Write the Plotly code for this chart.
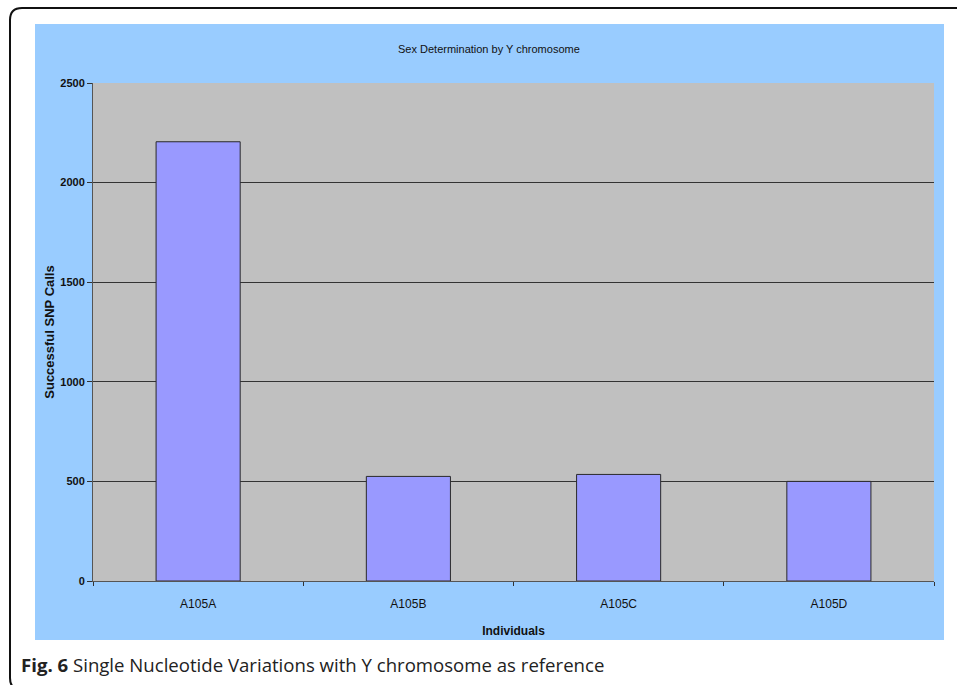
import plotly.graph_objects as go

# Successful SNP calls on the Y chromosome per individual
individuals = ["A105A", "A105B", "A105C", "A105D"]
snp_calls = [2205, 525, 535, 500]
y_ticks = [0, 500, 1000, 1500, 2000, 2500]

W, H = 957, 685
L, R, T, B = 93, 23, 83, 104
pw, ph = W - L - R, H - T - B


def px_x(px):
    return (px - L) / pw


def px_y(py):
    return (H - B - py) / ph


fig = go.Figure(
    go.Bar(
        x=individuals,
        y=snp_calls,
        width=0.4,
        marker=dict(color="#9999FF", line=dict(color="#2a2a2a", width=1)),
    )
)

shapes = [
    # light blue chart panel
    dict(type="rect", xref="paper", yref="paper", layer="below",
         x0=px_x(35), x1=px_x(944), y0=px_y(640), y1=px_y(24),
         fillcolor="#99CCFF", line=dict(width=0)),
    # grey plotting area
    dict(type="rect", xref="paper", yref="paper", layer="below",
         x0=0, x1=1, y0=0, y1=1,
         fillcolor="#C0C0C0", line=dict(width=0)),
]

# rounded frame around the figure
x0, y0, x1, y1 = px_x(10), px_y(690), px_x(970), px_y(8)
rx, ry = 12 / pw, 12 / ph
path = (f"M {x1},{y1} L {x0 + rx},{y1} Q {x0},{y1} {x0},{y1 - ry} "
        f"L {x0},{y0 + ry} Q {x0},{y0} {x0 + rx},{y0}")
shapes.append(dict(type="path", xref="paper", yref="paper", path=path,
                   line=dict(color="#111111", width=2)))

tick_font = dict(family="Liberation Sans, Arial", size=11, color="#111111")
title_font = dict(family="Liberation Sans, Arial", size=13, color="#111111")

fig.update_layout(
    width=W, height=H,
    margin=dict(l=L, r=R, t=T, b=B),
    paper_bgcolor="white",
    plot_bgcolor="rgba(0,0,0,0)",
    showlegend=False,
    shapes=shapes,
    annotations=[
        dict(text="Sex Determination by Y chromosome", xref="paper", yref="paper",
             x=px_x(489), y=px_y(41), showarrow=False,
             font=dict(family="Liberation Sans, Arial", size=11, color="#111111")),
        dict(text="<b>Fig. 6</b> Single Nucleotide Variations with Y chromosome as reference",
             xref="paper", yref="paper", x=px_x(19), y=px_y(665),
             xanchor="left", yanchor="middle", showarrow=False,
             font=dict(family="Open Sans", size=18.6, color="#222222")),
    ],
    xaxis=dict(
        title=dict(text="<b>Individuals</b>", font=dict(tick_font, size=12), standoff=16),
        tickfont=dict(tick_font, size=12),
        ticklabelstandoff=12,
        tickson="boundaries",
        ticks="outside", ticklen=4, tickcolor="#333333",
        showline=True, linecolor="#555555", linewidth=1,
        showgrid=False,
    ),
    yaxis=dict(
        title=dict(text="<b>Successful SNP Calls</b>", font=title_font, standoff=2),
        range=[0, 2500],
        tickvals=y_ticks,
        ticktext=[f"<b>{v}</b>" for v in y_ticks],
        tickfont=tick_font,
        ticks="outside", ticklen=5, tickcolor="#333333",
        showline=True, linecolor="#555555", linewidth=1,
        showgrid=True, gridcolor="#333333", gridwidth=1,
        zeroline=False,
    ),
)

fig.write_html("out.html")
